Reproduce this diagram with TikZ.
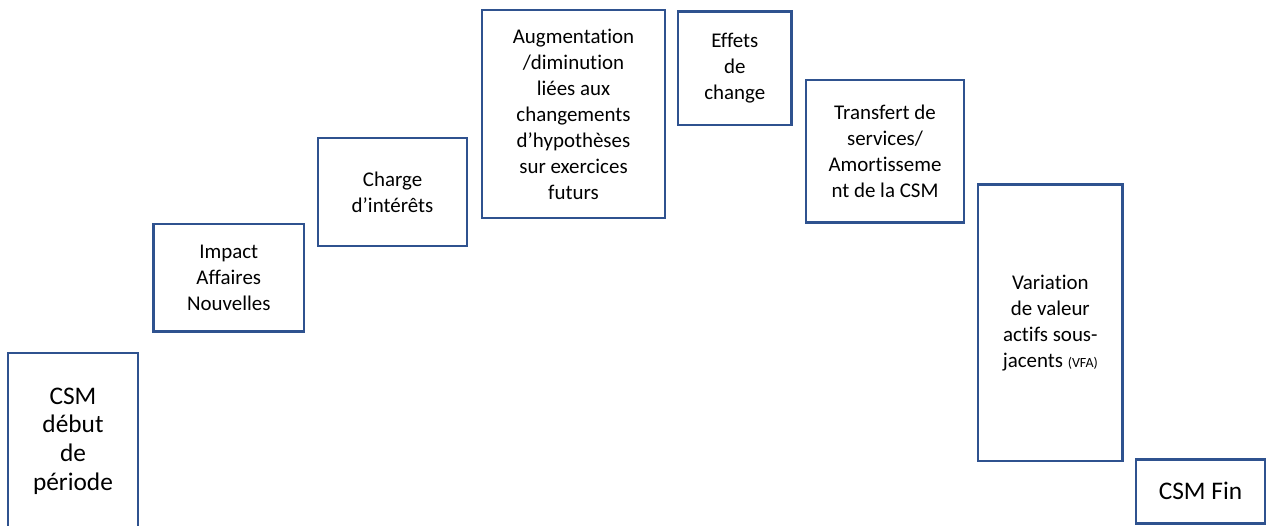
\documentclass[tikz,border=0pt]{standalone}
\usepackage{fontspec}
\setmainfont{Carlito}[Ligatures={NoCommon}]
\definecolor{boxblue}{HTML}{2F528F}
\begin{document}
\begin{tikzpicture}[x=0.75pt,y=-0.75pt,
  stepbox/.style={draw=boxblue,line width=1.9pt,inner sep=0pt,align=center,
    font=\fontsize{15.7}{19.5}\selectfont,text=black},
  bigbox/.style={stepbox,font=\fontsize{19}{21.5}\selectfont}]
  \useasboundingbox (0,0) rectangle (1266,525);
  \node[bigbox,minimum width=97.5pt,minimum height=132pt] (debut) at (73,441)
    {CSM\\début\\de\\période};
  \node[stepbox,minimum width=112.9pt,minimum height=80.8pt] (an) at (228.75,277.85)
    {Impact\\Affaires\\Nouvelles};
  \node[stepbox,minimum width=111.75pt,minimum height=81pt] (interets) at (392.5,192)
    {Charge\\d’intérêts};
  \node[stepbox,minimum width=137.25pt,minimum height=156pt] (hypo) at (573.5,114)
    {Augmentation\\/diminution\\liées aux\\changements\\d’hypothèses\\sur exercices\\futurs};
  \node[stepbox,minimum width=85.3pt,minimum height=85pt] (change) at (734.85,68.35)
    {Effets\\de\\change};
  \node[stepbox,minimum width=118.5pt,minimum height=107pt] (transfert) at (885,151.35)
    {Transfert de\\services/\\Amortisseme\\nt de la CSM};
  \node[stepbox,minimum width=108.5pt,minimum height=207.5pt] (vfa) at (1050.35,322.65)
    {Variation\\de valeur\\actifs sous-\\jacents {\fontsize{10.5}{12}\selectfont(VFA)}};
  \node[bigbox,minimum width=96.75pt,minimum height=48pt] (fin) at (1200.5,491.3)
    {CSM Fin};
\end{tikzpicture}
\end{document}
